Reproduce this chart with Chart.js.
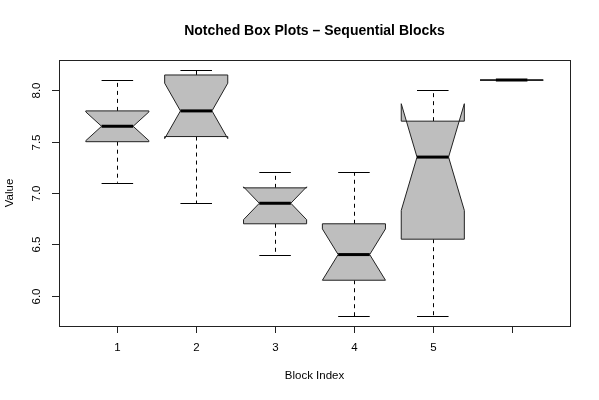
<!DOCTYPE html>
<html>
<head>
<meta charset="utf-8">
<script src="https://cdn.jsdelivr.net/npm/chart.js@4/dist/chart.umd.min.js"></script>
<style>
  html, body { margin: 0; padding: 0; background: #ffffff; }
  #wrap { width: 599px; height: 400px; }
</style>
</head>
<body>
<div id="wrap"><canvas id="chart" width="599" height="400"></canvas></div>
<script>
// Block labels along the x axis (the sixth position carries no label)
const blocks = ['1', '2', '3', '4', '5', ''];

// Five-number summaries per block plus notch limits
const whiskerLow  = [7.10, 6.90, 6.40, 5.80, 5.80, 8.10];
const q1          = [7.50, 7.55, 6.70, 6.15, 6.55, 8.10];
const notchLow    = [7.51, 7.53, 6.74, 6.15, 6.83, 8.10];
const medians     = [7.65, 7.80, 6.90, 6.40, 7.35, 8.10];
const notchHigh   = [7.79, 8.07, 7.06, 6.65, 7.87, 8.10];
const q3          = [7.80, 8.15, 7.05, 6.70, 7.70, 8.10];
const whiskerHigh = [8.10, 8.20, 7.20, 7.20, 8.00, 8.10];

// Value axis ticks
const yTicks = [6.0, 6.5, 7.0, 7.5, 8.0];

const FONT = '"Liberation Sans", Arial, Helvetica, sans-serif';

const boxPlotPlugin = {
  id: 'notchedBoxes',
  afterDatasetsDraw(chart) {
    const ctx = chart.ctx;
    const xs = chart.scales.x;
    const ys = chart.scales.y;
    const area = chart.chartArea;
    const unit = xs.getPixelForValue(1) - xs.getPixelForValue(0);
    const half = 0.4 * unit;
    const notchHalf = 0.2 * unit;
    const capHalf = 0.2 * unit;

    ctx.save();

    // Boxes, whiskers and medians
    for (let i = 0; i < medians.length; i++) {
      const xc = xs.getPixelForValue(i + 1);
      const xl = xc - half, xr = xc + half;
      const Y = v => ys.getPixelForValue(v);

      // dashed whiskers
      ctx.strokeStyle = '#000';
      ctx.lineWidth = 1;
      ctx.setLineDash([4, 4]);
      ctx.beginPath();
      ctx.moveTo(Math.round(xc) + 0.5, Y(q1[i]));
      ctx.lineTo(Math.round(xc) + 0.5, Y(whiskerLow[i]));
      ctx.moveTo(Math.round(xc) + 0.5, Y(q3[i]));
      ctx.lineTo(Math.round(xc) + 0.5, Y(whiskerHigh[i]));
      ctx.stroke();
      ctx.setLineDash([]);

      // whisker caps
      ctx.beginPath();
      const yl = Math.round(Y(whiskerLow[i])) + 0.5;
      const yh = Math.round(Y(whiskerHigh[i])) + 0.5;
      ctx.moveTo(xc - capHalf, yl); ctx.lineTo(xc + capHalf, yl);
      ctx.moveTo(xc - capHalf, yh); ctx.lineTo(xc + capHalf, yh);
      ctx.stroke();

      // notched box outline
      ctx.beginPath();
      ctx.moveTo(xl, Y(q1[i]));
      ctx.lineTo(xl, Y(notchLow[i]));
      ctx.lineTo(xc - notchHalf, Y(medians[i]));
      ctx.lineTo(xl, Y(notchHigh[i]));
      ctx.lineTo(xl, Y(q3[i]));
      ctx.lineTo(xr, Y(q3[i]));
      ctx.lineTo(xr, Y(notchHigh[i]));
      ctx.lineTo(xc + notchHalf, Y(medians[i]));
      ctx.lineTo(xr, Y(notchLow[i]));
      ctx.lineTo(xr, Y(q1[i]));
      ctx.closePath();
      ctx.fillStyle = '#bebebe';
      ctx.fill();
      ctx.strokeStyle = '#222';
      ctx.lineWidth = 1;
      ctx.stroke();

      // median bar
      ctx.beginPath();
      ctx.strokeStyle = '#000';
      ctx.lineWidth = 3;
      ctx.moveTo(xc - notchHalf, Y(medians[i]));
      ctx.lineTo(xc + notchHalf, Y(medians[i]));
      ctx.stroke();
    }

    // plot frame
    ctx.lineWidth = 1;
    ctx.strokeStyle = '#222';
    ctx.strokeRect(Math.round(area.left) + 0.5, Math.round(area.top) + 0.5,
                   Math.round(area.right - area.left), Math.round(area.bottom - area.top));

    // y axis ticks and rotated labels
    ctx.fillStyle = '#000';
    ctx.font = '11.5px ' + FONT;
    ctx.textAlign = 'center';
    ctx.textBaseline = 'middle';
    yTicks.forEach(v => {
      const y = Math.round(ys.getPixelForValue(v)) + 0.5;
      ctx.beginPath();
      ctx.moveTo(area.left - 7, y);
      ctx.lineTo(area.left, y);
      ctx.stroke();
      ctx.save();
      ctx.translate(area.left - 22, y);
      ctx.rotate(-Math.PI / 2);
      ctx.fillText(v.toFixed(1), 0, 0);
      ctx.restore();
    });

    // x axis ticks and labels
    blocks.forEach((lab, i) => {
      const x = Math.round(xs.getPixelForValue(i + 1)) + 0.5;
      ctx.beginPath();
      ctx.moveTo(x, area.bottom);
      ctx.lineTo(x, area.bottom + 7);
      ctx.stroke();
      if (lab) ctx.fillText(lab, x, area.bottom + 22);
    });

    // axis titles
    const cx = (area.left + area.right) / 2;
    ctx.fillText('Block Index', cx, 376);
    ctx.save();
    ctx.translate(10, (area.top + area.bottom) / 2);
    ctx.rotate(-Math.PI / 2);
    ctx.fillText('Value', 0, 0);
    ctx.restore();

    // main title
    ctx.font = 'bold 14px ' + FONT;
    ctx.fillText('Notched Box Plots \u2013 Sequential Blocks', cx, 31);

    ctx.restore();
  }
};

new Chart(document.getElementById('chart'), {
  type: 'scatter',
  data: {
    datasets: [{
      label: 'Median',
      data: medians.map((m, i) => ({ x: i + 1, y: m })),
      pointRadius: 0,
      pointHoverRadius: 0,
      showLine: false
    }]
  },
  options: {
    responsive: false,
    animation: false,
    events: [],
    layout: { padding: { left: 59, right: 29, top: 60, bottom: 74 } },
    plugins: { legend: { display: false }, tooltip: { enabled: false }, title: { display: false } },
    scales: {
      x: { type: 'linear', min: 0.26, max: 6.74, display: false },
      y: { type: 'linear', min: 5.704, max: 8.296, display: false }
    }
  },
  plugins: [boxPlotPlugin]
});
</script>
</body>
</html>
